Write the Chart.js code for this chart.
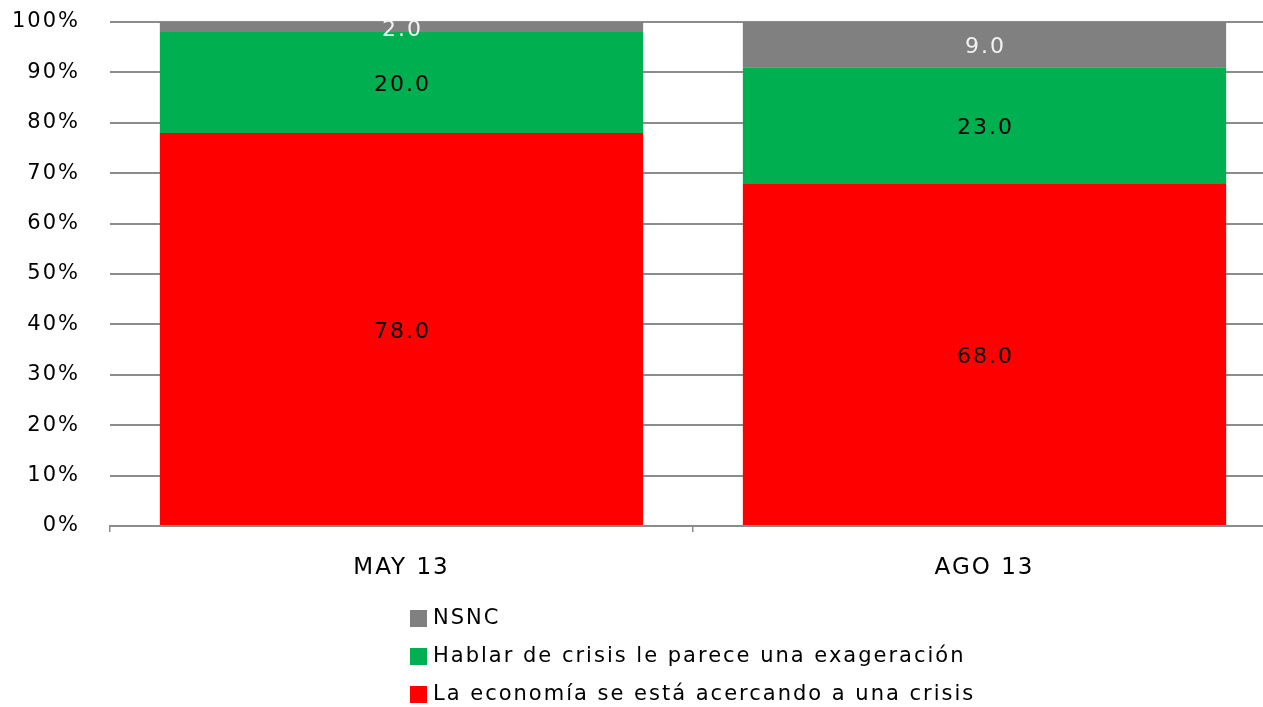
<!DOCTYPE html>
<html>
<head>
<meta charset="utf-8">
<script src="https://cdn.jsdelivr.net/npm/chart.js@4/dist/chart.umd.min.js"></script>
<style>
html,body{margin:0;padding:0;background:#fff;overflow:hidden;}
#clip{position:relative;width:1263px;height:707px;overflow:hidden;}
#wrap{position:absolute;left:0;top:0;width:1280px;height:707px;}
</style>
</head>
<body>
<div id="clip"><div id="wrap"><canvas id="c"></canvas></div></div>
<script>
const categories = ["MAY 13", "AGO 13"];
const crisis = [78.0, 68.0];
const exageracion = [20.0, 23.0];
const nsnc = [2.0, 9.0];
const seriesNames = ["La economía se está acercando a una crisis", "Hablar de crisis le parece una exageración", "NSNC"];
const yTicks = [0, 10, 20, 30, 40, 50, 60, 70, 80, 90, 100];

const FONT = "DejaVu Sans";
const colors = ["#FF0000", "#00B050", "#808080"];
const labelColors = ["#000000", "#000000", "#F2F2F2"];

const spacing = {
  id: 'spacing',
  beforeDraw(chart) { chart.ctx.letterSpacing = "2px"; }
};

const valueLabels = {
  id: 'valueLabels',
  afterDatasetsDraw(chart) {
    const ctx = chart.ctx;
    ctx.save();
    ctx.letterSpacing = "2px";
    ctx.font = "22px " + FONT;
    ctx.textAlign = "center";
    ctx.textBaseline = "middle";
    chart.data.datasets.forEach((ds, di) => {
      const meta = chart.getDatasetMeta(di);
      meta.data.forEach((el, i) => {
        const p = el.getProps(['x', 'y', 'base'], true);
        ctx.fillStyle = labelColors[di];
        ctx.fillText(ds.data[i].toFixed(1), p.x + 1, (p.y + p.base) / 2 + 3);
      });
    });
    ctx.restore();
  }
};

const vertLegend = {
  id: 'vertLegend',
  afterDraw(chart) {
    const ctx = chart.ctx;
    ctx.save();
    ctx.letterSpacing = "2px";
    ctx.font = "21px " + FONT;
    ctx.textBaseline = "middle";
    ctx.textAlign = "left";
    const order = [2, 1, 0];
    const rowsY = [618, 656, 694];
    order.forEach((di, k) => {
      const ds = chart.data.datasets[di];
      ctx.fillStyle = ds.backgroundColor;
      ctx.fillRect(410, rowsY[k] - 8, 17, 17);
      ctx.fillStyle = "#000";
      ctx.fillText(ds.label, 433, rowsY[k] + 1);
    });
    ctx.restore();
  }
};

new Chart(document.getElementById('c'), {
  type: 'bar',
  data: {
    labels: categories,
    datasets: [
      { label: seriesNames[0], data: crisis, backgroundColor: colors[0] },
      { label: seriesNames[1], data: exageracion, backgroundColor: colors[1] },
      { label: seriesNames[2], data: nsnc, backgroundColor: colors[2] }
    ]
  },
  options: {
    responsive: true,
    maintainAspectRatio: false,
    animation: false,
    layout: { padding: { top: 22, right: 4, bottom: 121, left: 0 } },
    datasets: { bar: { categoryPercentage: 1.0, barPercentage: 0.829, borderWidth: 0 } },
    plugins: { legend: { display: false }, tooltip: { enabled: false } },
    scales: {
      x: {
        stacked: true,
        grid: { display: true, drawOnChartArea: false, drawTicks: true, tickLength: 6, offset: true, color: "#8C8C8C", lineWidth: 1.5 },
        border: { display: true, color: "#8C8C8C", width: 2 },
        ticks: { color: "#000", font: { family: FONT, size: 23 }, padding: 22 },
        afterFit(s) { s.height = 60; s.paddingLeft = 0; s.paddingRight = 0; }
      },
      y: {
        stacked: true,
        min: 0, max: 100,
        afterBuildTicks(s) { s.ticks = yTicks.map(v => ({ value: v })); },
        grid: { color: "#8C8C8C", lineWidth: 2, drawTicks: false },
        border: { display: false },
        ticks: { color: "#000", font: { family: FONT, size: 21 }, padding: 30, callback: v => v + "%" },
        afterFit(s) { s.width = 110; s.paddingTop = 0; s.paddingBottom = 0; }
      }
    }
  },
  plugins: [spacing, valueLabels, vertLegend]
});
</script>
</body>
</html>
